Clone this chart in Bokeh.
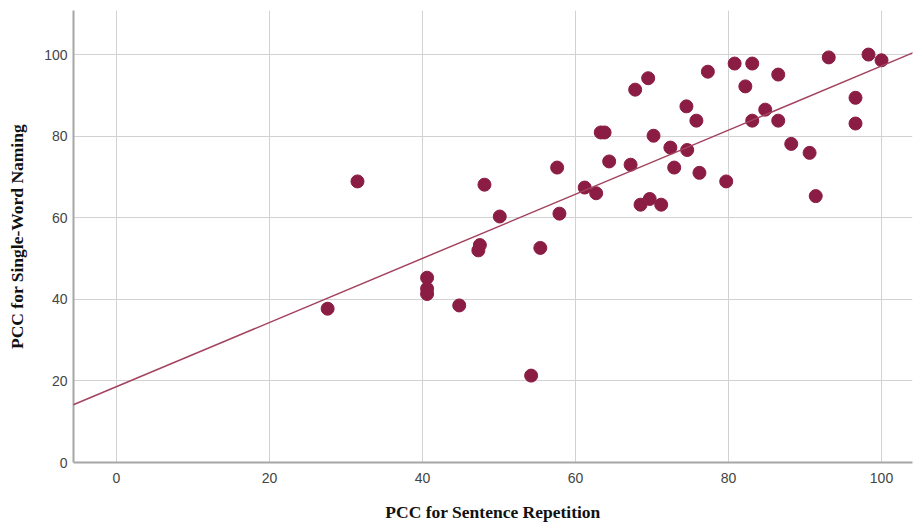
from bokeh.plotting import figure
from bokeh.models import Range1d, FixedTicker, Slope
from bokeh.embed import file_html
from bokeh.resources import INLINE

# PCC for Sentence Repetition (x) and Single-Word Naming (y)
sentence_rep = [27.6, 31.5, 40.6, 40.6, 40.6, 44.8, 47.3, 47.5, 48.1, 50.1,
                55.4, 54.2, 57.6, 57.9, 61.2, 62.7, 63.3, 63.8, 64.4, 67.2,
                67.8, 68.5, 69.5, 69.7, 70.2, 71.2, 72.4, 72.9, 74.5, 74.6,
                75.8, 76.2, 77.3, 79.7, 80.8, 82.2, 83.1, 83.1, 84.8, 86.5,
                86.5, 88.2, 90.6, 91.4, 93.1, 96.6, 96.6, 98.3, 100.0]
word_naming = [37.7, 68.9, 45.3, 42.6, 41.3, 38.5, 52.0, 53.3, 68.1, 60.3,
               52.6, 21.3, 72.3, 61.0, 67.4, 66.0, 80.9, 80.9, 73.8, 73.0,
               91.4, 63.2, 94.2, 64.6, 80.1, 63.2, 77.2, 72.3, 87.3, 76.6,
               83.8, 71.0, 95.8, 68.9, 97.8, 92.2, 97.8, 83.8, 86.5, 95.1,
               83.8, 78.1, 75.9, 65.3, 99.3, 89.4, 83.1, 100.0, 98.6]

# fit line
fit_intercept = 18.6
fit_slope = 0.786

x_ticks = [0, 20, 40, 60, 80, 100]
y_ticks = [0, 20, 40, 60, 80, 100]

p = figure(width=913, height=530, output_backend="svg", toolbar_location=None,
           x_range=Range1d(-5.62, 104.05), y_range=Range1d(0, 110.8),
           min_border_left=73, min_border_right=1, min_border_top=10,
           min_border_bottom=68)
p.outline_line_color = None
p.background_fill_color = "white"
p.border_fill_color = "white"

grid_color = "#d2d2d2"
p.xgrid.grid_line_color = grid_color
p.ygrid.grid_line_color = grid_color
p.xgrid.ticker = FixedTicker(ticks=x_ticks)
p.ygrid.ticker = FixedTicker(ticks=y_ticks)

for ax in (p.xaxis[0], p.yaxis[0]):
    ax.axis_line_color = "#a6a6a6"
    ax.axis_line_width = 2
    ax.major_tick_line_color = None
    ax.minor_tick_line_color = None
    ax.major_label_text_font = "Liberation Sans"
    ax.major_label_text_font_size = "14px"
    ax.major_label_text_color = "#444444"
    ax.axis_label_text_font = "Liberation Serif"
    ax.axis_label_text_font_style = "bold"
    ax.axis_label_text_font_size = "17.5px"
    ax.axis_label_text_color = "#111111"

p.xaxis.ticker = FixedTicker(ticks=x_ticks)
p.yaxis.ticker = FixedTicker(ticks=y_ticks)
p.xaxis.axis_label = "PCC for Sentence Repetition"
p.yaxis.axis_label = "PCC for Single-Word Naming"
p.xaxis.major_label_standoff = 4
p.yaxis.major_label_standoff = 0
p.xaxis.axis_label_standoff = 16
p.yaxis.axis_label_standoff = 14

p.add_layout(Slope(gradient=fit_slope, y_intercept=fit_intercept,
                   line_color="#a3445f", line_width=1.5))

p.scatter(sentence_rep, word_naming, size=13, fill_color="#8b1c43",
          line_color="#8b1c43", line_width=1)

open("out.html", "w").write(file_html(p, INLINE))
